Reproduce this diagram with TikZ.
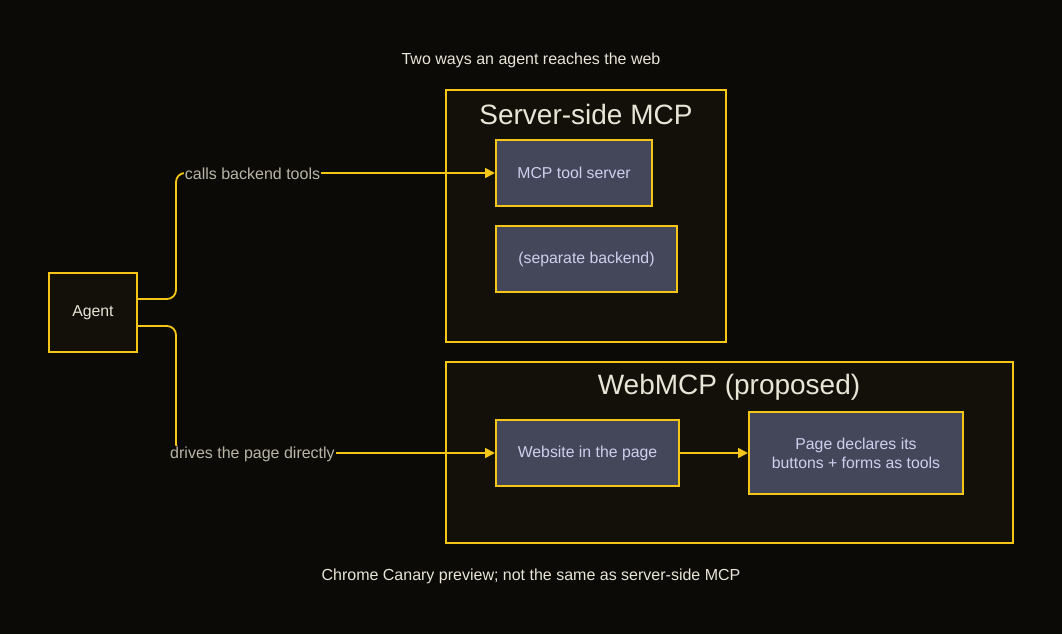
\documentclass[tikz,border=0pt]{standalone}
\usepackage{fontspec}
\setmainfont{Liberation Sans}
\usetikzlibrary{arrows.meta,positioning}
\definecolor{ink}{HTML}{0B0A07}
\definecolor{panel}{HTML}{13100A}
\definecolor{gold}{HTML}{F5C518}
\definecolor{slateblue}{HTML}{44475A}
\definecolor{cream}{HTML}{E8E4D6}
\definecolor{lilac}{HTML}{CDD0EE}
\definecolor{ash}{HTML}{B8B4A6}
\begin{document}
\begin{tikzpicture}[x=1pt, y=-1pt,
  cluster/.style={draw=gold, fill=panel, line width=2pt, inner sep=0pt},
  ctitle/.style={text=cream, font=\fontsize{28}{32}\selectfont},
  box/.style={draw=gold, fill=slateblue, line width=2pt, text=lilac, align=center, inner sep=0pt, font=\fontsize{15.8}{19}\selectfont},
  agentbox/.style={draw=gold, fill=panel, line width=2pt, text=cream, inner sep=0pt, font=\fontsize{15.8}{19}\selectfont},
  lbl/.style={fill=ink, text=ash, inner sep=1pt, font=\fontsize{16}{19}\selectfont},
  note/.style={text=cream, font=\fontsize{16}{19}\selectfont},
  arr/.style={-{Triangle[length=10pt, width=10pt]}, gold, line width=1.8pt, rounded corners=9pt}
]
\fill[ink] (0,0) rectangle (1062,634);
\useasboundingbox (0,0) rectangle (1062,634);

\node[note] (head) at (531,60.5) {Two ways an agent reaches the web};
\node[note] (foot) at (531,576.5) {Chrome Canary preview; not the same as server-side MCP};

% server-side cluster
\node[cluster, minimum width=280pt, minimum height=252pt] (server) at (586,216) {};
\node[ctitle] (servertitle) at (586,114) {Server-side MCP};
\node[box, minimum width=156pt, minimum height=66pt] (tool) at (574,173) {\raisebox{-1pt}{MCP tool server}};
\node[box, minimum width=181pt, minimum height=66pt] (backend) at (586.5,259) {\raisebox{-1pt}{(separate backend)}};

% webmcp cluster
\node[cluster, minimum width=567pt, minimum height=181pt] (webmcp) at (729.5,452.5) {};
\node[ctitle] (webtitle) at (729,387) {WebMCP (proposed)};
\node[box, minimum width=183pt, minimum height=66pt] (site) at (587.5,453) {\raisebox{-1pt}{Website in the page}};
\node[box, minimum width=214pt, minimum height=82pt] (declare) at (856,453) {Page declares its\\buttons + forms as tools};

\node[agentbox, minimum width=88pt, minimum height=79pt] (agent) at (93,312.5) {\raisebox{-1.5pt}{Agent}};

\draw[arr] ([yshift=13.5pt]agent.east) -- (176,299) -- (176,173) -- (tool.west);
\draw[arr] ([yshift=-13.5pt]agent.east) -- (176,326) -- (176,453) -- (site.west);
\draw[arr] (site) -- (declare);

\node[lbl] (callslbl) at (252.5,174) {calls backend tools};
\node[lbl] (driveslbl) at (252.5,454) {drives the page directly};
\end{tikzpicture}
\end{document}
